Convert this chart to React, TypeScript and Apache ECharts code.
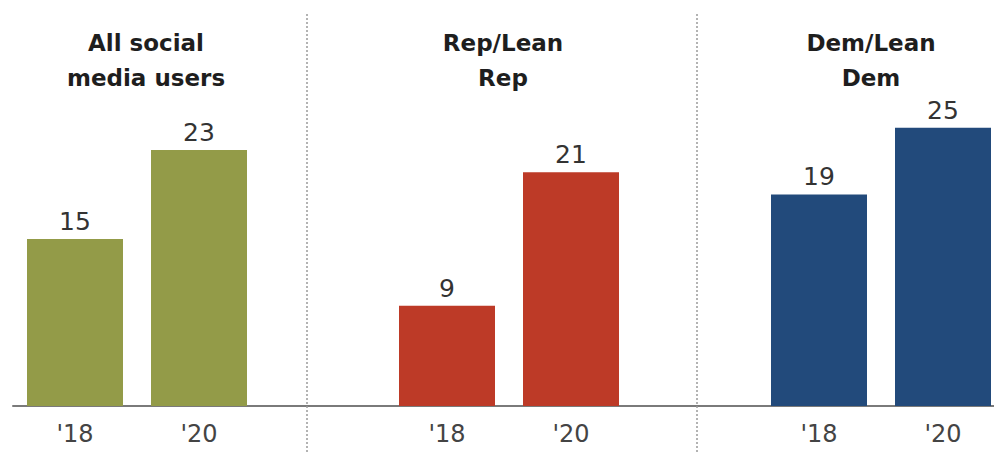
import React, { useEffect, useRef } from "react";
import * as echarts from "echarts";

const groupTitles = ["All social\nmedia users", "Rep/Lean\nRep", "Dem/Lean\nDem"];
const years = ["'18", "'20"];
const allUsers = [15, 23];
const repLean = [9, 21];
const demLean = [19, 25];
const groupColors = ["#939b48", "#bd3a27", "#224a7b"];

const FONT = "'DejaVu Sans', 'Liberation Sans', Arial, sans-serif";

export default function App() {
  const ref = useRef<HTMLDivElement>(null);
  useEffect(() => {
    if (!ref.current) return;
    const chart = echarts.init(ref.current, undefined, { renderer: "svg" });
    const groupsData = [allUsers, repLean, demLean];
    const categories: string[] = [];
    const data: any[] = [];
    groupsData.forEach((vals, gi) => {
      if (gi > 0) {
        categories.push("gap" + gi);
        data.push(null);
      }
      vals.forEach((v, yi) => {
        categories.push(gi + "|" + years[yi]);
        data.push({ value: v, itemStyle: { color: groupColors[gi] } });
      });
    });
    const titleX = [146, 503, 871];
    const dividerX = [307, 697];
    chart.setOption({
      animation: false,
      grid: {
        left: 13,
        top: 72,
        width: 992,
        height: 334,
        containLabel: false,
        outerBoundsMode: "none",
      },
      xAxis: {
        type: "category",
        data: categories,
        axisLine: { show: true, lineStyle: { color: "#7a7a7a", width: 2 } },
        axisTick: { show: false },
        axisLabel: {
          fontSize: 24,
          color: "#444",
          fontFamily: FONT,
          margin: 16,
          interval: (_idx: number, val: string) => val.indexOf("|") >= 0,
          formatter: (val: string) => val.split("|")[1] || "",
        },
        splitLine: { show: false },
      },
      yAxis: {
        type: "value",
        min: 0,
        max: 30,
        show: false,
        splitLine: { show: false },
      },
      series: [
        {
          type: "bar",
          data,
          barWidth: 96,
          label: {
            show: true,
            position: "top",
            distance: 5,
            fontSize: 25,
            color: "#333",
            fontFamily: FONT,
          },
        },
      ],
      graphic: [
        ...dividerX.map((x) => ({
          type: "line",
          shape: { x1: x, y1: 14, x2: x, y2: 453 },
          style: { stroke: "#9a9a9a", lineWidth: 1.5, lineDash: [2, 2] },
          z: 10,
        })),
        ...groupTitles.map((t, i) => ({
          type: "text",
          x: titleX[i],
          y: 25,
          style: {
            text: t,
            align: "center",
            verticalAlign: "top",
            fontSize: 23,
            fontWeight: "bold",
            fontFamily: FONT,
            lineHeight: 35,
            fill: "#1e1e1e",
          },
        })),
      ],
    });
    return () => chart.dispose();
  }, []);
  return (
    <div
      ref={ref}
      style={{ position: "absolute", left: 0, top: 0, width: 994, height: 453, background: "#fff" }}
    />
  );
}
